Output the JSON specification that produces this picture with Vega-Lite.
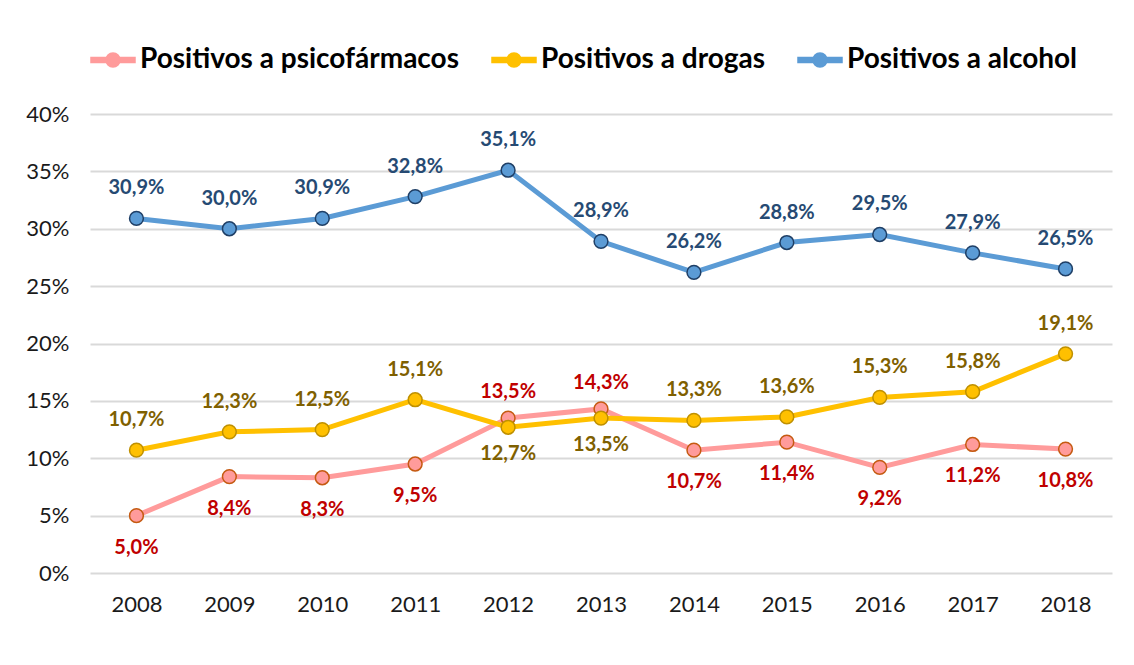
{
  "$schema": "https://vega.github.io/schema/vega-lite/v6.json",
  "width": 1022,
  "height": 459,
  "autosize": {"type": "none"},
  "padding": {"left": 90, "top": 114, "right": 22, "bottom": 92},
  "background": "white",
  "config": {
    "font": "Lato",
    "view": {"stroke": null},
    "locale": {"number": {"decimal": ",", "thousands": ".", "grouping": [3], "currency": ["", " €"]}},
    "axis": {"labelFont": "Lato", "labelFontSize": 22, "labelColor": "#1A1A1A", "title": null}
  },
  "data": {
    "values": [
      {"year": "2008", "series": "Positivos a psicofármacos", "value": 0.050},
      {"year": "2009", "series": "Positivos a psicofármacos", "value": 0.084},
      {"year": "2010", "series": "Positivos a psicofármacos", "value": 0.083},
      {"year": "2011", "series": "Positivos a psicofármacos", "value": 0.095},
      {"year": "2012", "series": "Positivos a psicofármacos", "value": 0.135},
      {"year": "2013", "series": "Positivos a psicofármacos", "value": 0.143},
      {"year": "2014", "series": "Positivos a psicofármacos", "value": 0.107},
      {"year": "2015", "series": "Positivos a psicofármacos", "value": 0.114},
      {"year": "2016", "series": "Positivos a psicofármacos", "value": 0.092},
      {"year": "2017", "series": "Positivos a psicofármacos", "value": 0.112},
      {"year": "2018", "series": "Positivos a psicofármacos", "value": 0.108},
      {"year": "2008", "series": "Positivos a drogas", "value": 0.107},
      {"year": "2009", "series": "Positivos a drogas", "value": 0.123},
      {"year": "2010", "series": "Positivos a drogas", "value": 0.125},
      {"year": "2011", "series": "Positivos a drogas", "value": 0.151},
      {"year": "2012", "series": "Positivos a drogas", "value": 0.127},
      {"year": "2013", "series": "Positivos a drogas", "value": 0.135},
      {"year": "2014", "series": "Positivos a drogas", "value": 0.133},
      {"year": "2015", "series": "Positivos a drogas", "value": 0.136},
      {"year": "2016", "series": "Positivos a drogas", "value": 0.153},
      {"year": "2017", "series": "Positivos a drogas", "value": 0.158},
      {"year": "2018", "series": "Positivos a drogas", "value": 0.191},
      {"year": "2008", "series": "Positivos a alcohol", "value": 0.309},
      {"year": "2009", "series": "Positivos a alcohol", "value": 0.300},
      {"year": "2010", "series": "Positivos a alcohol", "value": 0.309},
      {"year": "2011", "series": "Positivos a alcohol", "value": 0.328},
      {"year": "2012", "series": "Positivos a alcohol", "value": 0.351},
      {"year": "2013", "series": "Positivos a alcohol", "value": 0.289},
      {"year": "2014", "series": "Positivos a alcohol", "value": 0.262},
      {"year": "2015", "series": "Positivos a alcohol", "value": 0.288},
      {"year": "2016", "series": "Positivos a alcohol", "value": 0.295},
      {"year": "2017", "series": "Positivos a alcohol", "value": 0.279},
      {"year": "2018", "series": "Positivos a alcohol", "value": 0.265}
    ]
  },
  "encoding": {
    "x": {
      "field": "year", "type": "ordinal",
      "scale": {"type": "point", "padding": 0.5},
      "axis": {"labelAngle": 0, "domain": false, "ticks": false, "grid": false, "labelPadding": 21}
    },
    "y": {
      "field": "value", "type": "quantitative",
      "scale": {"domain": [0, 0.4], "nice": false},
      "axis": {"format": ".0%", "values": [0, 0.05, 0.1, 0.15, 0.2, 0.25, 0.3, 0.35, 0.4], "labelOverlap": false, "domain": false, "ticks": false, "grid": true, "gridColor": "#D9D9D9", "gridWidth": 2, "labelPadding": 21}
    }
  },
  "layer": [
    {
      "mark": {"type": "line", "strokeWidth": 5},
      "encoding": {
        "color": {
          "field": "series", "type": "nominal",
          "scale": {"domain": ["Positivos a psicofármacos", "Positivos a drogas", "Positivos a alcohol"], "range": ["#FF9B9B", "#FFC000", "#5B9BD5"]},
          "legend": {
            "orient": "top", "direction": "horizontal", "title": null, "offset": 40,
            "labelFont": "Lato", "labelFontSize": 28, "labelFontWeight": "bold", "labelColor": "#000000", "labelLimit": 500,
            "symbolType": "M-1,-0.11 L-0.3,-0.11 L-0.3,0.11 L-1,0.11 Z M0.3,-0.11 L1,-0.11 L1,0.11 L0.3,0.11 Z M-0.32,0 A0.32,0.32 0 1,1 0.32,0 A0.32,0.32 0 1,1 -0.32,0 Z",
            "symbolSize": 1936, "symbolStrokeWidth": 1.5, "labelOffset": 4, "columnPadding": 30,
            "symbolOpacity": 1,
            "encode": {"symbols": {"update": {"fill": {"scale": "color", "field": "value"}, "stroke": {"scale": "color", "field": "value"}, "opacity": {"value": 1}, "fillOpacity": {"value": 1}}}}
          }
        },
        "detail": {"field": "series"}
      }
    },
    {
      "mark": {"type": "point", "filled": true, "size": 190, "strokeWidth": 1.5, "opacity": 1},
      "encoding": {
        "fill": {"field": "series", "type": "nominal", "scale": {"domain": ["Positivos a psicofármacos", "Positivos a drogas", "Positivos a alcohol"], "range": ["#FF9B9B", "#FFC000", "#5B9BD5"]}, "legend": null},
        "stroke": {"field": "series", "type": "nominal", "scale": {"domain": ["Positivos a psicofármacos", "Positivos a drogas", "Positivos a alcohol"], "range": ["#C55A11", "#BF9000", "#1F3F66"]}, "legend": null}
      }
    },
    {
      "transform": [{"filter": "datum.series === 'Positivos a alcohol'"}],
      "mark": {"type": "text", "dy": -30, "font": "Lato", "fontSize": 20, "fontWeight": "bold", "color": "#264A73"},
      "encoding": {"text": {"field": "value", "type": "quantitative", "format": ".1%"}}
    },
    {
      "transform": [{"filter": "datum.series === 'Positivos a drogas' && datum.year !== '2012' && datum.year !== '2013'"}],
      "mark": {"type": "text", "dy": -30, "font": "Lato", "fontSize": 20, "fontWeight": "bold", "color": "#7F6000"},
      "encoding": {"text": {"field": "value", "type": "quantitative", "format": ".1%"}}
    },
    {
      "transform": [{"filter": "datum.series === 'Positivos a drogas' && (datum.year === '2012' || datum.year === '2013')"}],
      "mark": {"type": "text", "dy": 27, "font": "Lato", "fontSize": 20, "fontWeight": "bold", "color": "#7F6000"},
      "encoding": {"text": {"field": "value", "type": "quantitative", "format": ".1%"}}
    },
    {
      "transform": [{"filter": "datum.series === 'Positivos a psicofármacos' && datum.year !== '2012' && datum.year !== '2013'"}],
      "mark": {"type": "text", "dy": 32, "font": "Lato", "fontSize": 20, "fontWeight": "bold", "color": "#C00000"},
      "encoding": {"text": {"field": "value", "type": "quantitative", "format": ".1%"}}
    },
    {
      "transform": [{"filter": "datum.series === 'Positivos a psicofármacos' && (datum.year === '2012' || datum.year === '2013')"}],
      "mark": {"type": "text", "dy": -26, "font": "Lato", "fontSize": 20, "fontWeight": "bold", "color": "#C00000"},
      "encoding": {"text": {"field": "value", "type": "quantitative", "format": ".1%"}}
    }
  ]
}
